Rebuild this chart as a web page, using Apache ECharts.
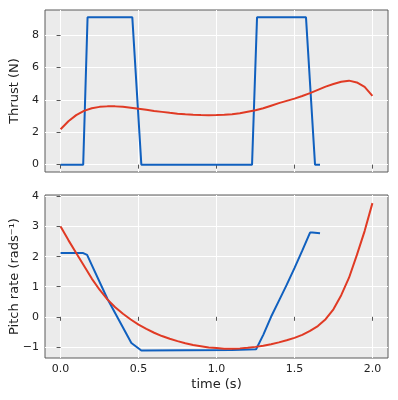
<!DOCTYPE html>
<html>
<head>
<meta charset="utf-8">
<script src="https://cdn.jsdelivr.net/npm/echarts@6/dist/echarts.min.js"></script>
<style>
  html, body { margin: 0; padding: 0; background: #fff; }
  #chart { width: 398px; height: 400px; }
</style>
</head>
<body>
<div id="chart"></div>
<script>
// sample times of the smooth (model) curves
var modelTime = [0, 0.05, 0.1, 0.15, 0.2, 0.25, 0.3, 0.35, 0.4, 0.45, 0.5, 0.55, 0.6, 0.65, 0.7,
  0.75, 0.8, 0.85, 0.9, 0.95, 1.0, 1.05, 1.1, 1.15, 1.2, 1.25, 1.3, 1.35, 1.4, 1.45, 1.5,
  1.55, 1.6, 1.65, 1.7, 1.75, 1.8, 1.85, 1.9, 1.95, 2.0];
var modelThrust = [2.19, 2.68, 3.06, 3.32, 3.48, 3.57, 3.6, 3.6, 3.57, 3.52, 3.46, 3.39, 3.32,
  3.26, 3.2, 3.15, 3.11, 3.08, 3.06, 3.05, 3.06, 3.08, 3.12, 3.18, 3.27, 3.36, 3.48, 3.64,
  3.8, 3.94, 4.08, 4.24, 4.42, 4.62, 4.82, 4.98, 5.12, 5.19, 5.08, 4.8, 4.25];
var modelPitch = [3.0, 2.55, 2.12, 1.7, 1.27, 0.9, 0.58, 0.32, 0.1, -0.09, -0.26, -0.4, -0.53,
  -0.64, -0.73, -0.81, -0.88, -0.94, -0.98, -1.02, -1.04, -1.06, -1.06, -1.05, -1.03, -1.0,
  -0.96, -0.91, -0.85, -0.78, -0.7, -0.6, -0.47, -0.31, -0.08, 0.25, 0.72, 1.3, 2.05, 2.85, 3.78];

// measured (blue) curves
var thrustTime = [0, 0.145, 0.173, 0.46, 0.518, 1.228, 1.26, 1.574, 1.632, 1.664];
var thrustValue = [0, 0, 9.1, 9.1, 0, 0, 9.1, 9.1, 0, 0];
var pitchTime = [0, 0.145, 0.17, 0.3, 0.454, 0.518, 0.8, 1.1, 1.254, 1.3, 1.35, 1.4, 1.45,
  1.5, 1.55, 1.6, 1.615, 1.664];
var pitchValue = [2.12, 2.12, 2.06, 0.6, -0.87, -1.12, -1.11, -1.1, -1.08, -0.6, 0.0, 0.53,
  1.06, 1.62, 2.2, 2.8, 2.8, 2.78];

var timeTicks = [0, 0.5, 1, 1.5, 2];
var thrustTicks = [0, 2, 4, 6, 8];
var pitchTicks = [-1, 0, 1, 2, 3, 4];

var blue = '#1060bf';
var red = '#e03a24';
var font = 'DejaVu Sans';

function pairs(xs, ys) {
  return xs.map(function (x, i) { return [x, ys[i]]; });
}

function xAxisFor(gridIndex, withLabels) {
  return {
    type: 'value', gridIndex: gridIndex, min: -0.1, max: 2.1,
    name: withLabels ? 'time (s)' : '',
    nameLocation: 'middle', nameGap: 20,
    nameTextStyle: { fontFamily: font, fontSize: 13, color: '#222' },
    axisLine: { show: false },
    axisTick: { show: true, length: 4, customValues: timeTicks, lineStyle: { color: '#555' } },
    axisLabel: {
      show: withLabels, customValues: timeTicks, margin: 6,
      fontFamily: font, fontSize: 11, color: '#222',
      formatter: function (v) { return v.toFixed(1); }
    },
    splitLine: { show: true, lineStyle: { color: '#fff', width: 1 } }
  };
}

function yAxisFor(gridIndex, name, lo, hi, ticks) {
  return {
    type: 'value', gridIndex: gridIndex, min: lo, max: hi,
    name: name, nameLocation: 'middle', nameGap: 24, nameMoveOverlap: false,
    nameTextStyle: { fontFamily: font, fontSize: 13, color: '#222', align: 'center' },
    axisLine: { show: false },
    axisTick: { show: true, length: 4, customValues: ticks, lineStyle: { color: '#555' } },
    axisLabel: {
      customValues: ticks, margin: 6, fontFamily: font, fontSize: 11, color: '#222',
      formatter: function (v) { return v < 0 ? '\u2212' + Math.abs(v) : String(v); }
    },
    splitLine: { show: true, lineStyle: { color: '#fff', width: 1 } }
  };
}

var chart = echarts.init(document.getElementById('chart'), null, { renderer: 'canvas' });
var option = {
  animation: false,
  backgroundColor: '#fff',
  grid: [
    { left: 45, top: 10, width: 343, height: 162, show: true, backgroundColor: '#ebebeb',
      borderColor: '#5a5a5a', borderWidth: 1, containLabel: false, outerBoundsMode: 'none' },
    { left: 45, top: 195, width: 343, height: 163, show: true, backgroundColor: '#ebebeb',
      borderColor: '#5a5a5a', borderWidth: 1, containLabel: false, outerBoundsMode: 'none' }
  ],
  xAxis: [xAxisFor(0, false), xAxisFor(1, true)],
  yAxis: [
    yAxisFor(0, 'Thrust (N)', -0.455, 9.555, thrustTicks),
    yAxisFor(1, 'Pitch rate (rads\u207b\u00b9)', -1.37, 4.05, pitchTicks)
  ],
  series: [
    { type: 'line', xAxisIndex: 0, yAxisIndex: 0, data: pairs(thrustTime, thrustValue),
      showSymbol: false, lineStyle: { color: blue, width: 2 } },
    { type: 'line', xAxisIndex: 0, yAxisIndex: 0, data: pairs(modelTime, modelThrust),
      showSymbol: false, lineStyle: { color: red, width: 2 } },
    { type: 'line', xAxisIndex: 1, yAxisIndex: 1, data: pairs(pitchTime, pitchValue),
      showSymbol: false, lineStyle: { color: blue, width: 2 } },
    { type: 'line', xAxisIndex: 1, yAxisIndex: 1, data: pairs(modelTime, modelPitch),
      showSymbol: false, lineStyle: { color: red, width: 2 } }
  ]
};
chart.setOption(option);
</script>
</body>
</html>
